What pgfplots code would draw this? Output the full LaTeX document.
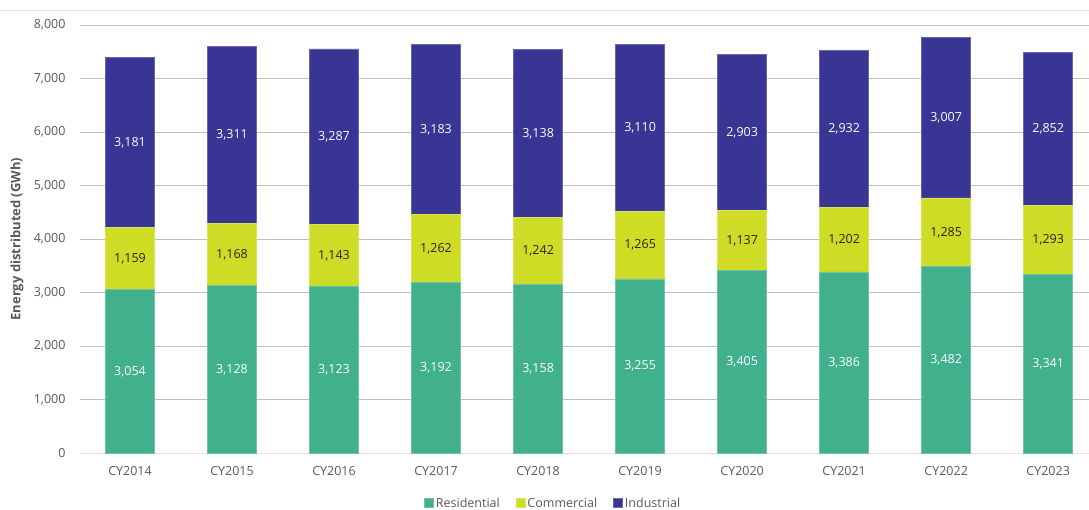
\documentclass[border=0pt]{standalone}
\usepackage{fontspec}
\setmainfont{Open Sans}
\usepackage{pgfplots}
\usepackage{pgfplotstable}
\pgfplotsset{compat=1.18}
\usetikzlibrary{calc}
\definecolor{res}{HTML}{40B08D}
\definecolor{com}{HTML}{CEDC25}
\definecolor{ind}{HTML}{383594}
\definecolor{tick}{HTML}{595959}
\definecolor{grid}{HTML}{E0E0E0}

\pgfplotstableread{
x v
0 3054
1 3128
2 3123
3 3192
4 3158
5 3255
6 3405
7 3386
8 3482
9 3341
}\resdata
\pgfplotstableread{
x v
0 1159
1 1168
2 1143
3 1262
4 1242
5 1265
6 1137
7 1202
8 1285
9 1293
}\comdata
\pgfplotstableread{
x v
0 3181
1 3311
2 3287
3 3183
4 3138
5 3110
6 2903
7 2932
8 3007
9 2852
}\inddata

\begin{document}
\begin{tikzpicture}
\begin{axis}[
  scale only axis,
  width=1009pt, height=428pt,
  ybar stacked, bar width=49pt,
  xmin=-0.49, xmax=9.4,
  ymin=0, ymax=8000,
  xtick={0,...,9},
  xticklabels={CY2014,CY2015,CY2016,CY2017,CY2018,CY2019,CY2020,CY2021,CY2022,CY2023},
  ytick={0,1000,...,8000},
  scaled y ticks=false,
  /pgf/number format/.cd, 1000 sep={,}, assume math mode=true, /pgfplots/.cd,
  tick label style={font=\fontsize{12.5}{15}\selectfont, text=tick},
  xticklabel style={yshift=-10pt},
  yticklabel style={xshift=-11pt},
  xmajorgrids=false, ymajorgrids, grid style={grid, line width=0.8pt},
  axis line style={draw=none},
  hide x axis=false,
  xtick style={draw=none}, ytick style={draw=none},
  major tick length=0pt,
  xtick pos=bottom, ytick pos=left,
  ylabel={\bfseries Energy distributed (GWh)},
  every axis y label/.style={at={(rel axis cs:-0.0624,0.5)}, rotate=90, anchor=center,
    font=\fontsize{13}{15}\selectfont, text=tick},
  nodes near coords,
  every node near coord/.append style={anchor=center,
    font=\fontsize{12.5}{15}\selectfont},
  legend style={at={(rel axis cs:0.469,0)}, yshift=-50pt, anchor=center, legend columns=3, draw=none,
    font=\fontsize{12.5}{15}\selectfont, text=tick, inner sep=2pt,
    /tikz/every even column/.append style={column sep=14pt}},
  legend image code/.code={\fill[#1] (0pt,-4.5pt) rectangle (9pt,4.5pt);},
]
\addplot+[fill=res, draw=res!75!white, line width=0.7pt,
  every node near coord/.append style={text=white}] table[x=x,y=v] {\resdata};
\addplot+[fill=com, draw=com!75!white, line width=0.7pt,
  every node near coord/.append style={text=black!85}] table[x=x,y=v] {\comdata};
\addplot+[fill=ind, draw=ind!75!white, line width=0.7pt,
  every node near coord/.append style={text=white}] table[x=x,y=v] {\inddata};
\legend{Residential, Commercial, Industrial}
\draw[grid, line width=0.8pt] (rel axis cs:0,0) -- (rel axis cs:1,0);
\coordinate (O) at (rel axis cs:0,0);
\end{axis}
\draw[grid, line width=0.8pt] ($(O)+(-80pt,443pt)$) -- ($(O)+(1009pt,443pt)$);
\pgfresetboundingbox
\path[use as bounding box] ($(O)+(-80pt,-56pt)$) rectangle ($(O)+(1009pt,453pt)$);
\end{tikzpicture}
\end{document}
